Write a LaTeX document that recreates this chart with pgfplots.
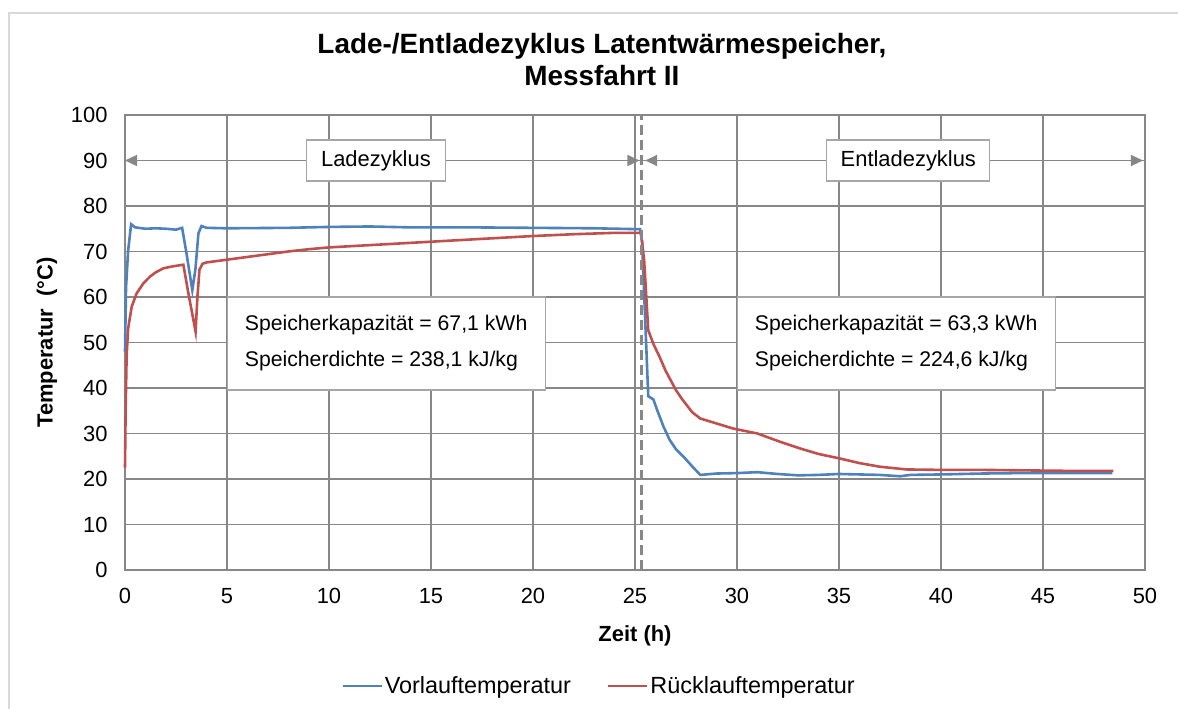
\documentclass[border=0pt]{standalone}
\usepackage{fontspec}
\setmainfont{Liberation Sans}
\usepackage{pgfplots}
\pgfplotsset{compat=1.18}
\usetikzlibrary{arrows.meta}
\definecolor{vorlauf}{HTML}{4F81BD}
\definecolor{ruecklauf}{HTML}{C0504D}
\definecolor{gridgray}{HTML}{878787}
\definecolor{boxgray}{HTML}{A6A6A6}
\definecolor{rimgray}{HTML}{D9D9D9}

\begin{document}
\begin{tikzpicture}
\useasboundingbox (0,0) rectangle (1178bp,709bp);
\draw[rimgray, line width=1.5bp] (9bp,0) -- (9bp,696bp) -- (1178bp,696bp);
\begin{axis}[
    at={(125bp,139bp)}, anchor=south west,
    scale only axis, width=1020bp, height=455bp,
    xmin=0, xmax=50, ymin=0, ymax=100,
    xtick distance=5, ytick distance=10,
    grid=major,
    major grid style={gridgray, line width=1.2bp},
    axis line style={gridgray, line width=1.2bp},
    major tick length=0pt,
    /pgf/number format/assume math mode=true,
    ticklabel style={font=\fontsize{22}{26}\selectfont},
    xticklabel style={yshift=-15bp},
    yticklabel style={xshift=-14bp},
    title={Lade-/Entladezyklus Latentwärmespeicher,\\Messfahrt II},
    title style={font=\bfseries\fontsize{28}{32}\selectfont, align=center,
      at={(0.4676,1.108)}, anchor=center},
    xlabel={Zeit (h)},
    ylabel={Temperatur\ \ (°C)},
    label style={font=\bfseries\fontsize{22}{26}\selectfont},
    xlabel style={at={(0.5,-0.145)}, anchor=center},
    ylabel style={at={(-0.0765,0.5)}, anchor=center, rotate=0},
    legend columns=-1,
    legend style={draw=none, at={(0.4647,-0.255)}, anchor=center,
      font=\fontsize{23.5}{27}\selectfont, inner xsep=0pt,
      /tikz/every even column/.append style={column sep=34bp}},
    legend image code/.code={\draw[#1] (0bp,0bp) -- (39bp,0bp);},
    clip=false,
  ]
\addplot[vorlauf, line width=2.6bp] coordinates {
  (0,48) (0.05,62) (0.15,70) (0.3,76) (0.5,75.3) (1,75) (1.5,75.1) (2,75)
  (2.5,74.8) (2.8,75.2) (3.0,70) (3.3,61.5) (3.45,66) (3.6,74) (3.75,75.6)
  (4,75.2) (5,75.1) (8,75.2) (10,75.4) (12,75.5) (14,75.3) (17,75.3) (20,75.2)
  (23,75.1) (25.25,74.9) (25.35,72) (25.5,55) (25.65,38.2) (25.9,37.5)
  (26.1,35) (26.4,31.5) (26.7,28.6) (27.0,26.6) (27.4,24.8) (27.8,22.8)
  (28.2,20.9) (29,21.2)
  (30,21.3) (31,21.5) (32,21.1) (33,20.8) (34,20.9) (35,21.1) (36,21.0)
  (37,20.9) (38,20.6) (38.5,20.9) (40,21.0) (42,21.2) (44,21.3) (46,21.3)
  (48.4,21.3)
};
\addlegendentry{Vorlauftemperatur}
\addplot[ruecklauf, line width=2.6bp] coordinates {
  (0,22.5) (0.03,35) (0.08,47) (0.15,53) (0.33,57.9) (0.57,60.8) (0.9,63)
  (1.23,64.5) (1.5,65.4) (1.88,66.3) (2.3,66.7) (2.86,67.1) (3.1,61)
  (3.46,52.4) (3.55,60) (3.65,66) (3.8,67.3) (4,67.6) (5,68.2) (6,68.8)
  (7,69.4) (8,70) (9,70.5) (10,70.9) (12,71.4) (14,71.9) (16,72.4) (18,72.9)
  (20,73.4) (22,73.8) (24,74.1) (25.3,74.1) (25.45,68) (25.65,52.7)
  (25.9,49.7) (26.2,46.9) (26.5,43.8) (27,39.6) (27.3,37.6) (27.8,34.7)
  (28.2,33.3) (29,32.2) (29.8,31.1) (31,30)
  (32.1,28.2) (33.1,26.7) (34,25.5) (35.05,24.5) (36,23.5) (37,22.7)
  (38.3,22.1) (40,22.0) (42,22.0) (44,21.9) (46,21.8) (48.45,21.8)
};
\addlegendentry{Rücklauftemperatur}
% Phasengrenze und Pfeile
\draw[gridgray, line width=3bp, dash pattern=on 10bp off 5bp]
  (axis cs:25.33,0) -- (axis cs:25.33,100);
\draw[gridgray, line width=1.5bp,
  {Triangle[length=12bp,width=11bp]}-{Triangle[length=12bp,width=11bp]}]
  (axis cs:0,90) -- (axis cs:25.22,90);
\draw[gridgray, line width=1.5bp,
  {Triangle[length=12bp,width=11bp]}-{Triangle[length=12bp,width=11bp]}]
  (axis cs:25.5,90) -- (axis cs:49.9,90);
\node[draw=boxgray, fill=white, line width=1.2bp, minimum width=139bp,
  minimum height=41bp, font=\fontsize{22}{26}\selectfont]
  at (axis cs:12.3,90) {Ladezyklus};
\node[draw=boxgray, fill=white, line width=1.2bp, minimum width=163bp,
  minimum height=41bp, font=\fontsize{22}{26}\selectfont]
  at (axis cs:38.4,90) {Entladezyklus};
\node[draw=boxgray, fill=white, line width=1.2bp, minimum width=318bp,
  minimum height=93bp, align=left,
  font=\fontsize{21.3}{26}\selectfont]
  at (axis cs:12.8,49.8) {Speicherkapazität = 67,1 kWh\\[10bp]Speicherdichte = 238,1 kJ/kg};
\node[draw=boxgray, fill=white, line width=1.2bp, minimum width=318bp,
  minimum height=93bp, align=left,
  font=\fontsize{21.3}{26}\selectfont]
  at (axis cs:37.8,49.8) {Speicherkapazität = 63,3 kWh\\[10bp]Speicherdichte = 224,6 kJ/kg};
\end{axis}
\end{tikzpicture}
\end{document}
